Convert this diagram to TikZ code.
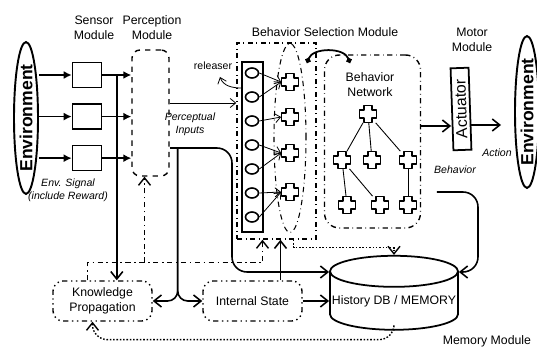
\documentclass[tikz,border=0pt]{standalone}
\usepackage{fontspec}
\setmainfont{Liberation Sans}
\usetikzlibrary{shapes.geometric, arrows.meta, positioning, calc}

% plus-shaped behavior node
\newcommand\bcross[2]{%
  \node[bnode] (#1) at (#2) {};
  \draw[crossline] (#1.center) +(-4,-8.5) -- +(4,-8.5) -- +(4,-4)
    -- +(8.5,-4) -- +(8.5,4) -- +(4,4) -- +(4,8.5) -- +(-4,8.5)
    -- +(-4,4) -- +(-8.5,4) -- +(-8.5,-4) -- +(-4,-4) -- cycle;}

\begin{document}
\begin{tikzpicture}[
  x=0.2mm, y=-0.2mm,
  font=\fontsize{7}{8.5}\selectfont,
  every node/.style={inner sep=0pt, align=center},
  node distance=3mm,
  sensor/.style={rectangle, draw, line width=0.9pt, minimum width=5.8mm, minimum height=5mm},
  env/.style={ellipse, draw, line width=1.1pt, rotate=90, minimum width=29.6mm,
              minimum height=4.8mm, font=\fontsize{10}{12}\selectfont\bfseries},
  note/.style={font=\fontsize{6}{7.5}\selectfont\itshape},
  ddbox/.style={rectangle, rounded corners=2mm, draw, line width=0.8pt, dash dot dot,
                minimum width=19.8mm, minimum height=8mm},
  relnode/.style={ellipse, draw, line width=0.9pt, minimum width=2.6mm, minimum height=2mm},
  bnode/.style={rectangle, minimum size=3.4mm},
  crossline/.style={line width=1.1pt, line join=round},
  ddline/.style={dash dot, line width=0.8pt},
  arr/.style={-{Straight Barb[length=1.5mm,width=2.4mm]}, line width=0.9pt},
  tarr/.style={-{Straight Barb[length=1.1mm,width=1.8mm]}, line width=0.45pt},
  sarr/.style={-{Latex[length=1.6mm,width=1.6mm]}, line width=0.9pt},
]
  \useasboundingbox (0,0) rectangle (537,350);

  % environment, sensors, perception
  \node[env] (envL) at (26,118) {Environment};
  \node[sensor] (s1) at (87,75) {};
  \node[sensor, below=of s1] (s2) {};
  \node[sensor, below=of s2] (s3) {};
  \node (lblSensor) at (94,28) {Sensor\\Module};
  \node[draw, dashed, rounded corners=1.6mm, line width=0.8pt, minimum width=7.4mm,
        minimum height=25.2mm] (perc) at (150.5,113) {};
  \node (lblPerc) at (152,28) {Perception\\Module};
  \node[note] (lblSignal) at (68,190) {Env. Signal\\(include Reward)};

  \foreach \s in {s1,s2,s3} {
    \draw[sarr] (envL.south |- \s) -- (\s.west);
    \draw[sarr] (\s.east) -- (perc.west |- \s);
  }

  % behavior selection module
  \node[draw, ddline, minimum width=15.8mm, minimum height=39.2mm] (bsm) at (276.5,141) {};
  \node (lblBsm) at (325,32) {Behavior Selection Module};
  \node[draw, line width=0.6pt, minimum width=4.2mm, minimum height=34mm] (rel) at (252.5,147) {};
  \node[ellipse, draw, dash dot, line width=0.6pt, minimum width=6.4mm,
        minimum height=37.8mm] (cgrp) at (290,138) {};
  \foreach \i in {1,...,7}
    \node[relnode] (e\i) at (252,49+24*\i) {};
  \foreach \n/\y in {1/82,2/117,3/153,4/192}
    \bcross{c\n}{290,\y};
  \foreach \a/\b in {1/1,2/1,3/2,4/3,5/3,6/4,7/4}
    \draw[tarr] (e\a.east) -- (c\b.west);
  \node[font=\fontsize{6}{7.5}\selectfont] (rlab) at (213,66) {releaser};
  \coordinate (rtip) at (220,77);
  \draw[tarr] (rel.west |- 0,88) to[out=180, in=-70] (rtip);

  % behavior network
  \node[draw, ddline, rounded corners=3mm, minimum width=19.2mm, minimum height=34.6mm] (bn) at (372.5,141.5) {};
  \node (lblBn) at (370,85) {Behavior\\Network};
  \bcross{t0}{368,114}
  \bcross{t1}{342,160}
  \bcross{t2}{372,160}
  \bcross{t3}{408,160}
  \bcross{t4}{347,205}
  \bcross{t5}{380,205}
  \bcross{t6}{408,205}
  \foreach \a/\b in {t0/t1,t0/t2,t0/t3,t1/t4,t1/t5,t3/t6}
    \draw[line width=0.5pt] (\a) -- (\b);
  \coordinate (lnkA) at (307,63);
  \coordinate (lnkB) at (350,63);
  \draw[line width=1pt, {Circle[length=1.1mm]}-{Circle[length=1.1mm]}] (lnkA) to[bend left=70] (lnkB);

  % motor module
  \node[draw, line width=1pt, rotate=92, minimum width=16.4mm, minimum height=3.6mm,
        font=\fontsize{9}{11}\selectfont] (act) at (461,109) {Actuator};
  \node (lblMotor) at (472,40) {Motor\\Module};
  \node[env] (envR) at (527,112) {Environment};
  \draw[arr] (bn.east |- 0,126) -- (act.north |- 0,126);
  \draw[arr, shorten >=2.6mm] (act.south |- 0,125) -- (envR.north |- 0,125);
  \node[note] (lblAction) at (497,153) {Action};
  \node[note] (lblBehavior) at (455,170) {Behavior};

  % memory module
  \node[cylinder, shape border rotate=90, aspect=0.25, draw, line width=1pt,
        minimum width=25.6mm, minimum height=14.8mm] (db) at (394,301) {History DB / MEMORY};
  \node (lblMem) at (487,341) {Memory Module};
  \node[ddbox] (kp) at (102.5,301) {Knowledge\\Propagation};
  \node[ddbox] (is) at (252.5,301) {Internal State};

  % perception outputs
  \coordinate (tap) at ($(s1.east)!0.5!(perc.west |- s1)$);
  \draw[arr] (tap) -- (tap |- kp.north);
  \draw[tarr] (perc.east |- 0,103) -- (bsm.west |- 0,103);
  \node[note] (lblPin) at (190,124) {Perceptual\\Inputs};
  \coordinate (pout) at ($(perc.east)+(8,35)$);
  \draw[line width=0.9pt] (perc.east |- pout) -- (pout);
  \draw[arr, rounded corners=2mm] (pout) |- (kp.east);
  \draw[arr, rounded corners=2mm] (pout) |- (is.west);
  \draw[arr, rounded corners=3mm] (pout) -- (232,148) -- (232,272) -- (db.west |- 0,272);

  % feedback paths
  \coordinate (fbx) at ($(bsm.south)+(-14,23)$);
  \coordinate (pin) at ($(perc.south)+(-6,0)$);
  \draw[arr, ddline] ($(kp.north)+(-15,0)$) |- (fbx) -- (fbx |- bsm.south);
  \draw[arr, ddline] (pin |- fbx) -- (pin);
  \coordinate (isup) at ($(is.north)+(28,0)$);
  \draw[arr] (isup) -- (isup |- bsm.south);
  \draw[arr] (is.east) -- (db.west |- is.east);
  \draw[arr, densely dotted, line width=0.8pt] ($(bsm.south east)+(-23,0)$) -- ++(0,8) -| (db.top);
  \coordinate (bhv) at (437,192);
  \draw[arr, rounded corners=3mm] (bhv) -- (478,192) -- (478,272) -- (db.east |- 0,272);
  \draw[arr, densely dotted, line width=0.8pt, rounded corners=3mm] (db.south) -- ++(0,9)
    -| ($(kp.south)+(-10,0)$);
\end{tikzpicture}
\end{document}
